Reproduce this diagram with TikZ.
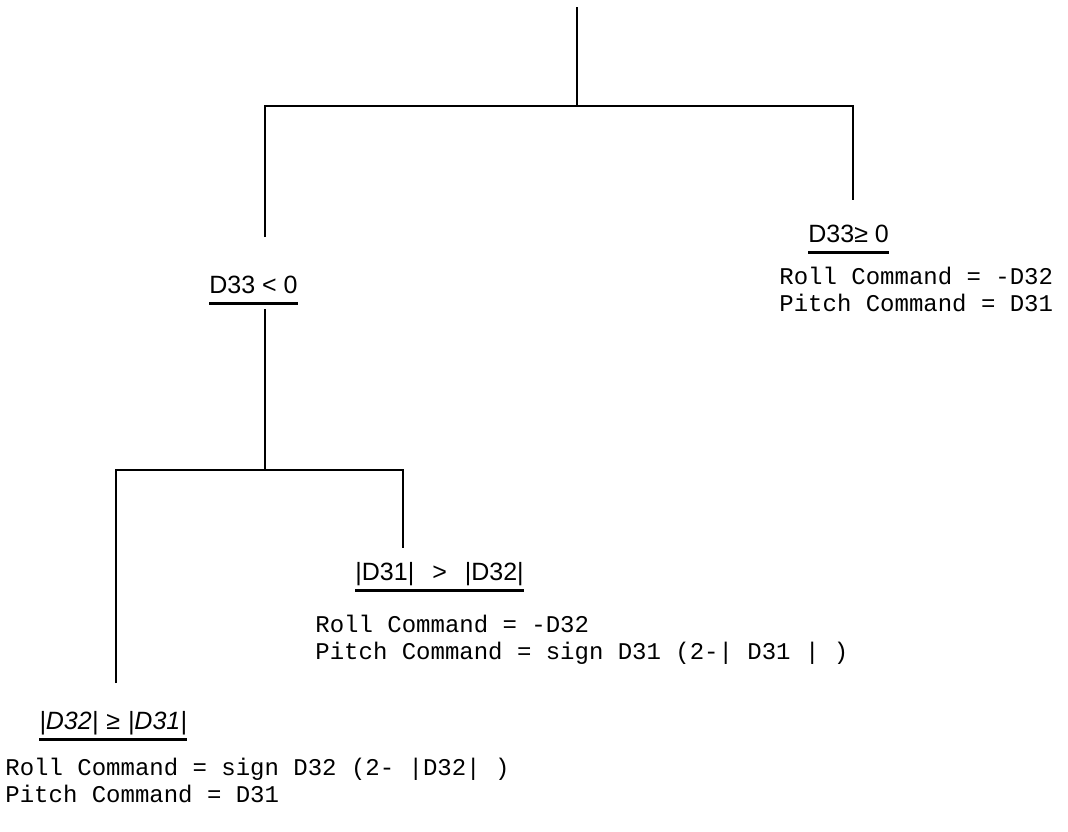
\documentclass[tikz,border=0pt]{standalone}
\usepackage{fontspec}
\setmainfont{Liberation Sans}
\newfontfamily\typefont{Liberation Mono}
\usetikzlibrary{positioning}

\begin{document}
\begin{tikzpicture}[x=0.5pt,y=-0.5pt,
    link/.style={line width=1.2pt},
    cond/.style={anchor=base west,inner sep=0pt,text depth=5pt,font=\fontsize{12.5}{15}\selectfont},
    cmd/.style={anchor=base west,align=left,inner sep=0pt,font=\typefont\fontsize{12}{13.5}\selectfont}]
  \useasboundingbox (0,0) rectangle (1068,831);
  \coordinate (top) at (577,7);
  \coordinate (j1) at (577,106);
  \coordinate (l1) at (265,106);
  \coordinate (r1) at (853,106);
  \coordinate (l1e) at (265,237);
  \coordinate (r1e) at (853,200);
  \node[cond] (pos) at (808,242) {D33≥ 0};
  \node[cmd] (posact) at (779,311) {Roll Command = -D32\\Pitch Command = D31};
  \node[cond] (neg) at (209,293) {D33 < 0};
  \coordinate (j2) at (265,470);
  \coordinate (l2) at (116,470);
  \coordinate (r2) at (403,470);
  \coordinate (l2e) at (116,683);
  \coordinate (r2e) at (403,548);
  \node[cond] (big31) at (355,580) {|D31|\hspace{9pt}>\hspace{9pt}|D32|};
  \node[cmd] (act31) at (315,659) {Roll Command = -D32\\Pitch Command = sign D31 (2-| D31 | )};
  \node[cond,font=\fontsize{12.5}{15}\selectfont\itshape] (big32) at (39,729) {|D32|\hspace{4pt}≥\hspace{4pt}|D31|};
  \node[cmd] (act32) at (5,802) {Roll Command = sign D32 (2- |D32| )\\Pitch Command = D31};
  \draw[link] (top) -- (j1);
  \draw[link] (l1e) -- (l1) -- (r1) -- (r1e);
  \draw[link] (pos.south west) -- (pos.south east);
  \draw[link] (neg.south west) -- (neg.south east);
  \draw[link,shorten <=3pt] (neg.south -| j2) -- (j2);
  \draw[link] (l2e) -- (l2) -- (r2) -- (r2e);
  \draw[link] (big31.south west) -- (big31.south east);
  \draw[link] (big32.south west) -- (big32.south east);
\end{tikzpicture}
\end{document}
